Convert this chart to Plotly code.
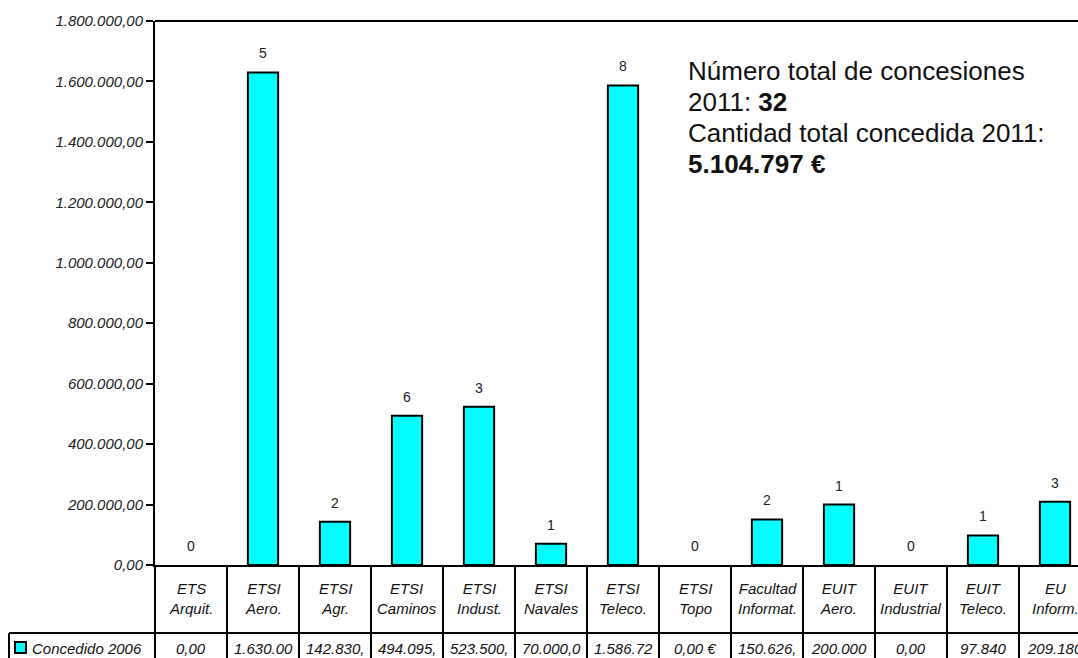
import plotly.graph_objects as go

# ---- data ----
categories = ["ETS<br>Arquit.", "ETSI<br>Aero.", "ETSI<br>Agr.", "ETSI<br>Caminos", "ETSI<br>Indust.",
              "ETSI<br>Navales", "ETSI<br>Teleco.", "ETSI<br>Topo", "Facultad<br>Informat.",
              "EUIT<br>Aero.", "EUIT<br>Industrial", "EUIT<br>Teleco.", "EU<br>Inform."]
amounts = [0, 1630000, 142830, 494095, 523500, 70000, 1586726, 0, 150626, 200000, 0, 97840, 209180]
counts = [0, 5, 2, 6, 3, 1, 8, 0, 2, 1, 0, 1, 3]
table_values = ["0,00", "1.630.00", "142.830,", "494.095,", "523.500,", "70.000,0", "1.586.72",
                "0,00 €", "150.626,", "200.000", "0,00", "97.840", "209.180"]
series_name = "Concedido 2006"
ytick_vals = [0, 200000, 400000, 600000, 800000, 1000000, 1200000, 1400000, 1600000, 1800000]
ytick_text = ["0,00", "200.000,00", "400.000,00", "600.000,00", "800.000,00", "1.000.000,00",
              "1.200.000,00", "1.400.000,00", "1.600.000,00", "1.800.000,00"]
info_lines = ["Número total de concesiones", "2011: <b>32</b>",
              "Cantidad total concedida 2011:", "<b>5.104.797 €</b>"]

FONT = "Liberation Sans, Arial, sans-serif"
W, H = 1078, 658
L, T, B = 155, 21, 565  # plot area pixel edges
ph = B - T

def py2paper(py):
    return (B - py) / ph

def px2paper(px):
    return (px - L) / (W - L)

x_idx = list(range(len(categories)))

fig = go.Figure()
fig.add_trace(go.Bar(
    x=x_idx, y=amounts, width=0.42,
    marker=dict(color="#00FFFF",
                line=dict(color="black", width=[0 if a == 0 else 2 for a in amounts])),
    showlegend=False, hoverinfo="skip",
))

ann = []
# count labels above bars
for i, (a, c) in enumerate(zip(amounts, counts)):
    ann.append(dict(x=i, y=a, xref="x", yref="y", text=str(c), showarrow=False,
                    yanchor="bottom", yshift=9, font=dict(family=FONT, size=14, color="#222")))
# category labels in the table header
for i, cat in enumerate(categories):
    ann.append(dict(x=i, y=py2paper(598), xref="x", yref="paper", text="<i>" + cat + "</i>",
                    showarrow=False, yanchor="middle",
                    font=dict(family=FONT, size=15, color="#111")))
# values row
for i, v in enumerate(table_values):
    ann.append(dict(x=i, y=py2paper(648), xref="x", yref="paper", text="<i>" + v + "</i>",
                    showarrow=False, yanchor="middle",
                    font=dict(family=FONT, size=15, color="#111")))
# legend cell text
ann.append(dict(x=px2paper(30), y=py2paper(648), xref="paper", yref="paper",
                text="<i>" + series_name + "</i>", showarrow=False, xanchor="left", yanchor="middle",
                font=dict(family=FONT, size=15, color="#111")))
# info text block
for line, pyc in zip(info_lines, [71, 102, 133, 164]):
    ann.append(dict(x=px2paper(686), y=py2paper(pyc), xref="paper", yref="paper", text=line,
                    showarrow=False, xanchor="left", yanchor="middle",
                    font=dict(family=FONT, size=26, color="#111")))

shapes = []
# top border of plot area
shapes.append(dict(type="line", xref="paper", yref="paper", x0=0, x1=1, y0=1, y1=1,
                   line=dict(color="black", width=2)))
# vertical table lines
for k in range(1, len(categories) + 1):
    shapes.append(dict(type="line", xref="x", yref="paper", x0=k - 0.5, x1=k - 0.5,
                       y0=0, y1=py2paper(H + 5), line=dict(color="black", width=2)))
shapes.append(dict(type="line", xref="paper", yref="paper", x0=0, x1=0,
                   y0=0, y1=py2paper(H + 5), line=dict(color="black", width=2)))
# horizontal table line
shapes.append(dict(type="line", xref="paper", yref="paper", x0=px2paper(9), x1=1,
                   y0=py2paper(633), y1=py2paper(633), line=dict(color="black", width=2)))
# legend cell left border
shapes.append(dict(type="line", xref="paper", yref="paper", x0=px2paper(9), x1=px2paper(9),
                   y0=py2paper(633), y1=py2paper(H + 5), line=dict(color="black", width=2)))
# legend key
shapes.append(dict(type="rect", xref="paper", yref="paper", x0=px2paper(15), x1=px2paper(26),
                   y0=py2paper(653), y1=py2paper(642), fillcolor="#00FFFF",
                   line=dict(color="black", width=2)))

fig.update_layout(
    width=W, height=H, autosize=False,
    margin=dict(l=L, r=0, t=T, b=H - B, pad=0),
    paper_bgcolor="white", plot_bgcolor="white",
    font=dict(family=FONT, size=14, color="#222"),
    xaxis=dict(range=[-0.5, -0.5 + (W - L) / 72.0], showticklabels=False, ticks="",
               showgrid=False, zeroline=False, showline=True, linecolor="black", linewidth=2,
               fixedrange=True),
    yaxis=dict(range=[0, 1800000], tickvals=ytick_vals,
               ticktext=["<i>" + t + "</i>" for t in ytick_text],
               ticks="outside", ticklen=7, tickwidth=2, tickcolor="black",
               showgrid=False, zeroline=False, showline=True, linecolor="black", linewidth=2,
               tickfont=dict(family=FONT, size=15, color="#222"), fixedrange=True),
    annotations=ann, shapes=shapes,
)

fig.write_html("out.html", config={"displayModeBar": False},
               post_script="document.body.style.margin='0';document.body.style.overflow='hidden';")
